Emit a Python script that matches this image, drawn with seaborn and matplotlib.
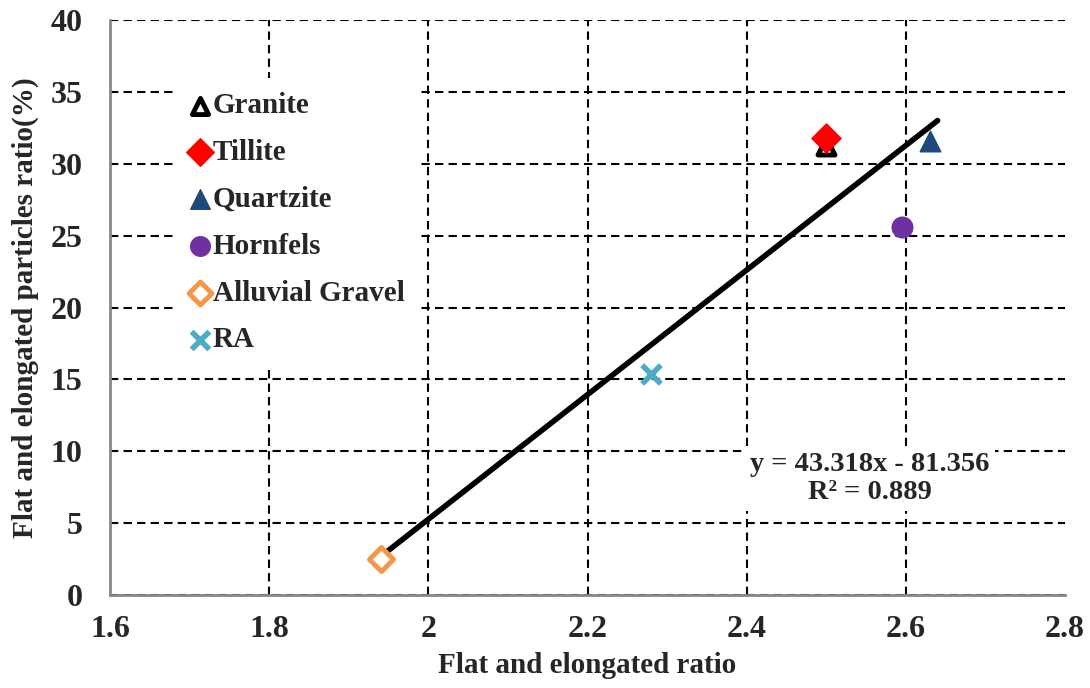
import numpy as np
import pandas as pd
import seaborn as sns
import matplotlib.pyplot as plt
from matplotlib.ticker import MultipleLocator

# data
materials = ['Granite', 'Tillite', 'Quartzite', 'Hornfels', 'Alluvial Gravel', 'RA']
fe_ratio = [2.50, 2.50, 2.63, 2.595, 1.94, 2.28]
fe_particles = [31.2, 31.8, 31.6, 25.6, 2.5, 15.4]
colors = ['black', '#FF0000', '#1F497D', '#7030A0', '#F79646', '#4BACC6']
markers = ['^', 'D', '^', 'o', 'D', 'x']
open_marker = [True, False, False, False, True, False]

slope = 43.318
intercept = -81.356
r2 = 0.889

sns.set_style('white')
plt.rcParams['font.family'] = ['Liberation Serif', 'DejaVu Serif']
plt.rcParams['font.weight'] = 'bold'

df = pd.DataFrame({'material': materials, 'x': fe_ratio, 'y': fe_particles})

fig, ax = plt.subplots(figsize=(10.9, 6.88), dpi=100)
fig.subplots_adjust(left=0.101, right=0.977, top=0.971, bottom=0.135)

for i, row in df.iterrows():
    if markers[i] == 'x':
        sns.scatterplot(x=[row['x']], y=[row['y']], marker='x', s=180, color=colors[i],
                        linewidth=4, ax=ax, label=row['material'], zorder=4)
    elif open_marker[i]:
        sns.scatterplot(x=[row['x']], y=[row['y']], marker=markers[i], s=150,
                        facecolor='white', edgecolor=colors[i], linewidth=3.5,
                        ax=ax, label=row['material'], zorder=4)
    else:
        sns.scatterplot(x=[row['x']], y=[row['y']], marker=markers[i], s=220,
                        color=colors[i], edgecolor=colors[i], linewidth=1,
                        ax=ax, label=row['material'], zorder=4)

# linear trendline
xs = np.array([min(fe_ratio), max(fe_ratio) + 0.01])
sns.lineplot(x=xs, y=slope * xs + intercept, color='black', linewidth=4, ax=ax,
             zorder=3, legend=False)

ax.set_xlim(1.6, 2.8)
ax.set_ylim(0, 40)
ax.xaxis.set_minor_locator(MultipleLocator(0.04))
ax.yaxis.set_major_locator(MultipleLocator(5))
ax.yaxis.set_minor_locator(MultipleLocator(1))
ax.set_xticks(np.arange(1.6, 2.81, 0.2))
ax.set_xticklabels(['1.6', '1.8', '2', '2.2', '2.4', '2.6', '2.8'])

ax.grid(True, which='major', color='black', linestyle=(0, (4, 2.5)), linewidth=1.5)
ax.set_axisbelow(True)
# no vertical line at the right edge in the reference
ax.xaxis.get_gridlines()[-1].set_visible(False)
ax.tick_params(which='both', direction='in', color='#888888', labelsize=23)
ax.tick_params(axis='x', which='major', pad=14)
ax.tick_params(axis='y', which='major', pad=20)
ax.tick_params(which='major', length=7, width=1.5)
ax.tick_params(which='minor', length=6, width=1.5)
for s in ['top', 'right']:
    ax.spines[s].set_visible(False)
for s in ['left', 'bottom']:
    ax.spines[s].set_color('#888888')
    ax.spines[s].set_linewidth(2)

ax.set_xlabel('Flat and elongated ratio', fontsize=21, fontweight='bold', labelpad=6)
ax.set_ylabel('Flat and elongated particles ratio(%)', fontsize=21, fontweight='bold', labelpad=8)

leg = ax.legend(loc='upper left', bbox_to_anchor=(0.054, 0.925), frameon=True,
                fancybox=False, framealpha=1, edgecolor='none', facecolor='white',
                prop={'size': 21, 'weight': 'bold'}, labelspacing=0.68,
                handlelength=0.6, handletextpad=0.15, borderpad=0.5, markerscale=0.95)

ax.text(2.555, 8.1, 'y = %.3fx - %.3f\nR² = %.3f' % (slope, -intercept, r2),
        ha='center', va='center', multialignment='center', fontsize=20.5,
        fontweight='bold', zorder=5, linespacing=1.15,
        bbox=dict(facecolor='white', edgecolor='none', pad=4))

plt.savefig('out.png', dpi=100)
